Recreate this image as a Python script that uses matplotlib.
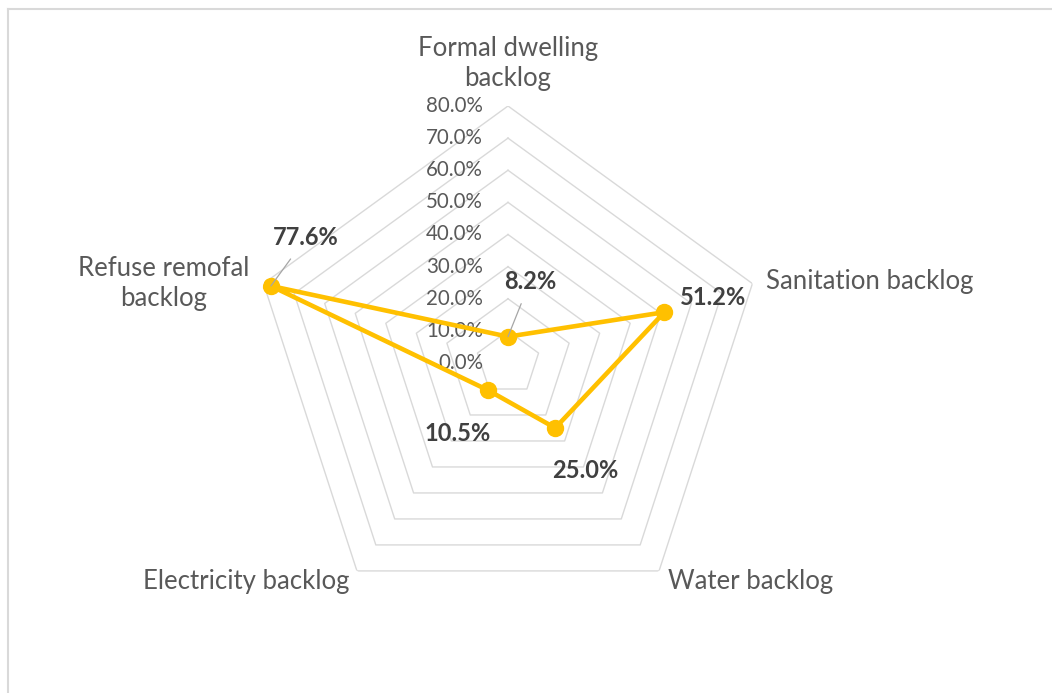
import numpy as np
import matplotlib
matplotlib.use("Agg")
import matplotlib.pyplot as plt
from matplotlib.lines import Line2D

# ---------------------------------------------------------------------------
# Data
# ---------------------------------------------------------------------------
categories = ["Formal dwelling\nbacklog", "Sanitation backlog", "Water backlog",
              "Electricity backlog", "Refuse remofal\nbacklog"]
values = [8.2, 51.2, 25.0, 10.5, 77.6]          # percent
value_labels = ["8.2%", "51.2%", "25.0%", "10.5%", "77.6%"]
grid_levels = [10, 20, 30, 40, 50, 60, 70, 80]
tick_levels = [0, 10, 20, 30, 40, 50, 60, 70, 80]

# ---------------------------------------------------------------------------
# Style
# ---------------------------------------------------------------------------
FONT = ["Lato", "DejaVu Sans"]
C_LINE = "#FFC000"
C_GRID = "#D9D9D9"
C_TXT = "#595959"
C_LBL = "#404040"

plt.rcParams["font.family"] = FONT

W, H = 1052, 693
fig = plt.figure(figsize=(W / 100, H / 100), dpi=100, facecolor="white")

# polar axes centred at (508, 363) px, 80% radius = 257 px
cx, cy, R = 508, 363, 257
ax = fig.add_axes([(cx - R) / W, (H - cy - R) / H, 2 * R / W, 2 * R / H],
                  projection="polar")
ax.set_theta_zero_location("N")
ax.set_theta_direction(-1)
ax.set_ylim(0, 80)
ax.grid(False)
ax.spines["polar"].set_visible(False)
ax.set_xticks([])
ax.set_yticks([])
ax.patch.set_alpha(0)

n = len(categories)
theta = np.arange(n) * 2 * np.pi / n
theta_c = np.append(theta, theta[0])

# pentagon grid
for lv in grid_levels:
    ax.plot(theta_c, [lv] * (n + 1), color=C_GRID, lw=1.0, zorder=1)

# radial tick labels, left of the top spoke
for lv in tick_levels:
    ax.annotate(f"{lv:.1f}%", xy=(0, lv), xytext=(-25, 0),
                textcoords="offset pixels", ha="right", va="center",
                fontsize=14.8, color=C_TXT, zorder=2)

# series
vals_c = np.append(values, values[0])
ax.plot(theta_c, vals_c, color=C_LINE, lw=3.3, zorder=3)
ax.plot(theta, values, "o", color=C_LINE, ms=11.5, zorder=4)

# data labels (offsets in pixels from the point)
lbl_offsets = [(22, 55), (49, 15), (30, -43), (-31, -43), (35, 48)]
leaders = [True, False, False, False, True]
for th, v, txt, off, lead in zip(theta, values, value_labels, lbl_offsets, leaders):
    kw = {}
    if lead:
        kw["arrowprops"] = dict(arrowstyle="-", color="#A6A6A6", lw=0.9,
                                shrinkA=6, shrinkB=0)
    ax.annotate(txt, xy=(th, v), xytext=off, textcoords="offset pixels",
                ha="center", va="center", fontsize=17, fontweight="bold",
                color=C_LBL, zorder=5, **kw)

# category labels around the outer pentagon
cat_place = [
    ((0, 15), "center", "bottom"),
    ((14, 2), "left", "center"),
    ((9, -11), "left", "center"),
    ((-7, -11), "right", "center"),
    ((-14, 0), "right", "center"),
]
for th, name, (off, ha, va) in zip(theta, categories, cat_place):
    ax.annotate(name, xy=(th, 80), xytext=off, textcoords="offset pixels",
                ha=ha, va=va, fontsize=18.5, color=C_TXT,
                multialignment="center", linespacing=1.25,
                annotation_clip=False)

# chart frame (only top and left edges fall inside the picture)
fig.add_artist(Line2D([8 / W, 1], [1 - 9 / H, 1 - 9 / H], color=C_GRID, lw=1.5,
                      transform=fig.transFigure))
fig.add_artist(Line2D([8 / W, 8 / W], [0, 1 - 9 / H], color=C_GRID, lw=1.5,
                      transform=fig.transFigure))

fig.savefig("out.png", dpi=100, facecolor="white")
